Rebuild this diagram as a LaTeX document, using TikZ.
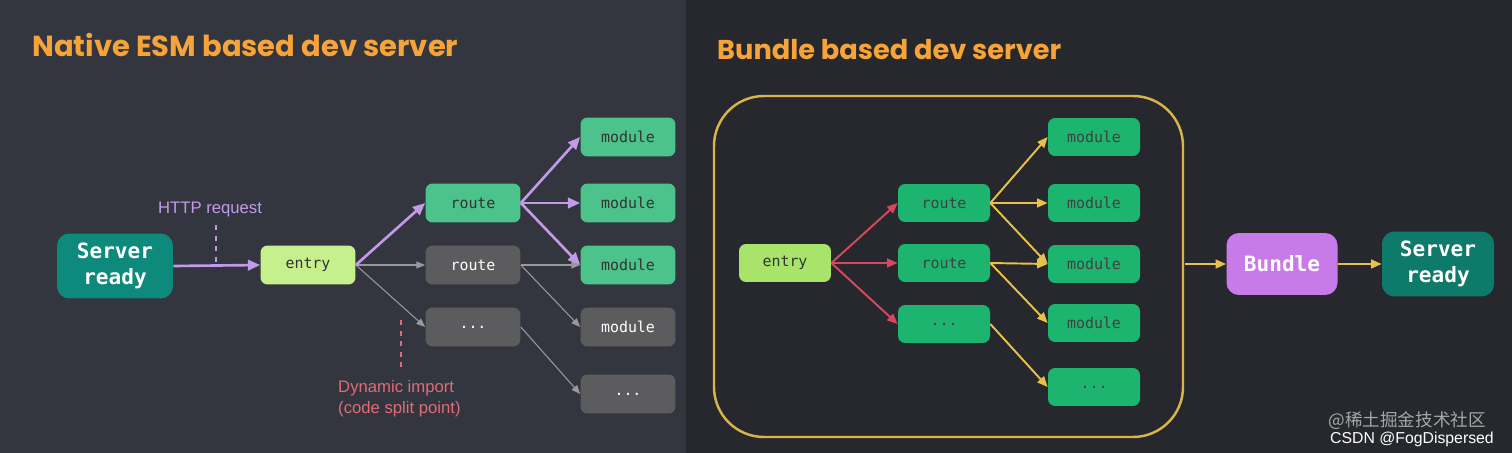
\documentclass[tikz,border=0pt]{standalone}
\usepackage{fontspec}
\setmainfont{Poppins}
\newfontfamily\monof{DejaVu Sans Mono}
\newfontfamily\labf{Liberation Sans}
\newfontfamily\cjk{Noto Sans CJK SC}
\usetikzlibrary{arrows.meta}
\definecolor{bgL}{HTML}{33363F}
\definecolor{bgR}{HTML}{26282E}
\definecolor{ora}{HTML}{F6A43A}
\definecolor{teal}{HTML}{0E8A7C}
\definecolor{tealR}{HTML}{0E7A6A}
\definecolor{lime}{HTML}{C6F08C}
\definecolor{limeR}{HTML}{A8E46A}
\definecolor{grn}{HTML}{4CC38A}
\definecolor{grnR}{HTML}{1CB46E}
\definecolor{gry}{HTML}{5C5C5E}
\definecolor{pur}{HTML}{C29BE8}
\definecolor{bund}{HTML}{C87AE8}
\definecolor{redl}{HTML}{E06C75}
\definecolor{redR}{HTML}{D9475E}
\definecolor{yel}{HTML}{E8C04A}
\definecolor{gold}{HTML}{D9B44A}
\begin{document}
\begin{tikzpicture}[x=0.02cm,y=-0.02cm,
 box/.style={rounded corners=4pt,minimum width=1.9cm,minimum height=0.78cm,inner sep=0pt,font=\monof\fontsize{8.5}{10}\selectfont},
 gbox/.style={box,fill=grn,text=black!80},
 grbox/.style={box,fill=gry,text=white!85},
 rbox/.style={box,fill=grnR,text=black!75,minimum width=1.84cm,minimum height=0.76cm},
 pa/.style={-{Triangle[length=7pt,width=6pt]},pur,line width=1.5pt},
 ga/.style={-{Triangle[length=5pt,width=4pt]},gray!80,line width=0.6pt},
 ra/.style={-{Triangle[length=6pt,width=5pt]},redR,line width=1.1pt},
 ya/.style={-{Triangle[length=6pt,width=5pt]},yel,line width=1.1pt},
 big/.style={rounded corners=7pt,inner sep=0pt,font=\monof\bfseries\fontsize{12}{15}\selectfont,text=white,align=center}]
\fill[bgL] (0,0) rectangle (686,453);
\fill[bgR] (686,0) rectangle (1512,453);
\useasboundingbox (0,0) rectangle (1512,453);
% left
\node[anchor=west,text=ora,font=\bfseries\fontsize{16.5}{20}\selectfont] (t1) at (26,45) {Native ESM based dev server};
\node[big,fill=teal,minimum width=2.32cm,minimum height=1.3cm] (sr) at (115,266) {Server\\ready};
\node[box,fill=lime,text=black!80] (en) at (308,265) {entry};
\node[gbox] (r1) at (473,203) {route};
\node[grbox] (r2) at (473,265) {route};
\node[grbox] (r3) at (473,327) {...};
\node[gbox] (m1) at (628,137) {module};
\node[gbox] (m2) at (628,203) {module};
\node[gbox] (m3) at (628,265) {module};
\node[grbox] (m4) at (628,327) {module};
\node[grbox] (m5) at (628,394) {...};
\draw[ga] (en.east) -- (r2.west);
\draw[ga] (en.east) -- (r3.west);
\draw[ga] (r2.east) -- (m3.west);
\draw[ga] (r2.east) -- (m4.west);
\draw[ga] (r3.east) -- (m5.west);
\draw[pa] (sr.east) -- (en.west);
\draw[pa] (en.east) -- (r1.west);
\draw[pa] (r1.east) -- (m1.west);
\draw[pa] (r1.east) -- (m2.west);
\draw[pa] (r1.east) -- (m3.west);
\node[text=pur,font=\labf\fontsize{9.5}{11}\selectfont] (http) at (210,209) {HTTP request};
\coordinate (h1) at (216,225); \coordinate (h2) at (216,262);
\draw[pur,dashed,line width=0.6pt] (h1) -- (h2);
\node[anchor=west,text=redl,font=\labf\fontsize{9.5}{12}\selectfont,align=left] (dyn) at (332,399) {Dynamic import\\(code split point)};
\coordinate (d1) at (401,320); \coordinate (d2) at (401,370);
\draw[redl,dashed,line width=0.6pt] (d1) -- (d2);
% right
\node[anchor=west,text=ora,font=\bfseries\fontsize{15.5}{19}\selectfont] (t2) at (711,50) {Bundle based dev server};
\draw[gold,line width=1.4pt,rounded corners=1cm] (714,96) rectangle (1183,437);
\coordinate (bx) at (1185,264);
\node[box,fill=limeR,text=black!80,minimum width=1.84cm,minimum height=0.76cm] (en2) at (785,263) {entry};
\node[rbox] (q1) at (944,203) {route};
\node[rbox] (q2) at (944,263) {route};
\node[rbox] (q3) at (944,324) {...};
\node[rbox] (n1) at (1094,137) {module};
\node[rbox] (n2) at (1094,203) {module};
\node[rbox] (n3) at (1094,264) {module};
\node[rbox] (n4) at (1094,323) {module};
\node[rbox] (n5) at (1094,387) {...};
\draw[ra] (en2.east) -- (q1.west);
\draw[ra] (en2.east) -- (q2.west);
\draw[ra] (en2.east) -- (q3.west);
\draw[ya] (q1.east) -- (n1.west);
\draw[ya] (q1.east) -- (n2.west);
\draw[ya] (q1.east) -- (n3.west);
\draw[ya] (q2.east) -- (n3.west);
\draw[ya] (q2.east) -- (n4.west);
\draw[ya] (q3.east) -- (n5.west);
\node[big,fill=bund,minimum width=2.22cm,minimum height=1.24cm] (bu) at (1282,264) {Bundle};
\node[big,fill=tealR,minimum width=2.24cm,minimum height=1.3cm] (sr2) at (1438,264) {Server\\ready};
\draw[ya] (bx) -- (bu.west);
\draw[ya] (bu.east) -- (sr2.west);
\node[anchor=east,text=gray!70,font=\cjk\fontsize{10}{11}\selectfont] (w1) at (1492,421) {@稀土掘金技术社区};
\node[anchor=east,text=white!85,font=\labf\fontsize{9}{10}\selectfont] (w2) at (1500,439) {CSDN @FogDispersed};
\end{tikzpicture}
\end{document}
